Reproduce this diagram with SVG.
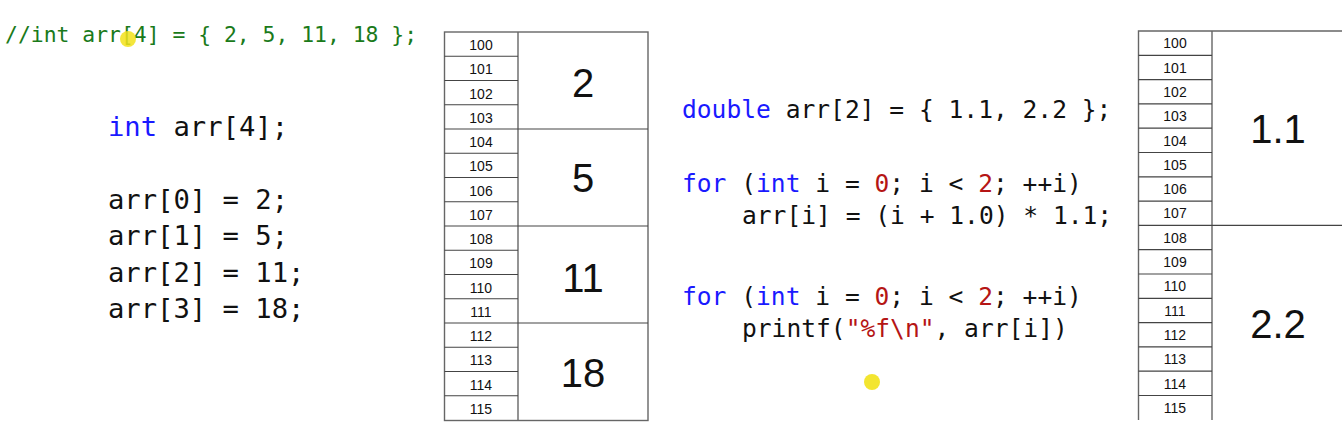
<svg xmlns="http://www.w3.org/2000/svg" width="1342" height="446" viewBox="0 0 1342 446">
<style>
.code{font-family:"DejaVu Sans Mono","Liberation Mono",monospace;fill:#111}
.kw{fill:#1a1aff}
.num{fill:#b51515}
.cm{fill:#1a7a1a}
.addr{font-family:"Liberation Sans",Arial,sans-serif;font-size:14px;fill:#111;text-anchor:middle}
.val{font-family:"Liberation Sans",Arial,sans-serif;font-size:40px;fill:#111;text-anchor:middle}
.ln{stroke:#444;stroke-width:1.2;fill:none}
.bd{stroke:#666;stroke-width:1.4;fill:none}
</style>
<rect width="1342" height="446" fill="#fff"/>

<g id="code-left">
<text class="code cm" x="5" y="42" font-size="21.4">//int arr[4] = { 2, 5, 11, 18 };</text>
<text class="code" x="108" y="136" font-size="27.2"><tspan class="kw">int</tspan> arr[4];</text>
<text class="code" x="108" y="209" font-size="27.2">arr[0] = 2;</text>
<text class="code" x="108" y="245" font-size="27.2">arr[1] = 5;</text>
<text class="code" x="108" y="282" font-size="27.2">arr[2] = 11;</text>
<text class="code" x="108" y="318" font-size="27.2">arr[3] = 18;</text>
</g>

<g id="table-int">
<rect class="bd" x="444.5" y="32" width="203.5" height="388.5"/>
<line class="bd" x1="518" y1="32" x2="518" y2="420.5"/>
<path class="ln" d="M444.5 56.25H518M444.5 80.5H518M444.5 104.75H518M444.5 153.25H518M444.5 177.5H518M444.5 201.75H518M444.5 250.25H518M444.5 274.5H518M444.5 298.75H518M444.5 347.25H518M444.5 371.5H518M444.5 395.75H518"/>
<path class="ln" d="M444.5 129H648M444.5 226H648M444.5 323H648"/>
<text class="addr" x="481" y="50">100</text>
<text class="addr" x="481" y="74.3">101</text>
<text class="addr" x="481" y="98.5">102</text>
<text class="addr" x="481" y="122.8">103</text>
<text class="addr" x="481" y="147">104</text>
<text class="addr" x="481" y="171.3">105</text>
<text class="addr" x="481" y="195.5">106</text>
<text class="addr" x="481" y="219.8">107</text>
<text class="addr" x="481" y="244">108</text>
<text class="addr" x="481" y="268.3">109</text>
<text class="addr" x="481" y="292.5">110</text>
<text class="addr" x="481" y="316.8">111</text>
<text class="addr" x="481" y="341">112</text>
<text class="addr" x="481" y="365.3">113</text>
<text class="addr" x="481" y="389.5">114</text>
<text class="addr" x="481" y="413.8">115</text>
<text class="val" x="583" y="97">2</text>
<text class="val" x="583" y="192">5</text>
<text class="val" x="583" y="292">11</text>
<text class="val" x="583" y="387">18</text>
</g>

<g id="code-right">
<text class="code" x="682" y="118" font-size="24.6"><tspan class="kw">double</tspan> arr[2] = { 1.1, 2.2 };</text>
<text class="code" x="682" y="192" font-size="24.6"><tspan class="kw">for</tspan> (<tspan class="kw">int</tspan> i = <tspan class="num">0</tspan>; i &lt; <tspan class="num">2</tspan>; ++i)</text>
<text class="code" x="742" y="224" font-size="24.6">arr[i] = (i + 1.0) * 1.1;</text>
<text class="code" x="682" y="305" font-size="24.6"><tspan class="kw">for</tspan> (<tspan class="kw">int</tspan> i = <tspan class="num">0</tspan>; i &lt; <tspan class="num">2</tspan>; ++i)</text>
<text class="code" x="742" y="337" font-size="24.6">printf(<tspan class="num">"%f\n"</tspan>, arr[i])</text>
</g>

<g id="table-double">
<path class="bd" d="M1138.5 420V31H1345M1212 31V420"/>
<path class="ln" d="M1138.5 55.3H1212M1138.5 79.6H1212M1138.5 103.9H1212M1138.5 128.2H1212M1138.5 152.5H1212M1138.5 176.8H1212M1138.5 201.1H1212M1138.5 249.7H1212M1138.5 274H1212M1138.5 298.3H1212M1138.5 322.6H1212M1138.5 346.9H1212M1138.5 371.2H1212M1138.5 395.5H1212"/>
<path class="ln" d="M1138.5 225.4H1345"/>
<text class="addr" x="1175" y="48.3">100</text>
<text class="addr" x="1175" y="72.6">101</text>
<text class="addr" x="1175" y="96.9">102</text>
<text class="addr" x="1175" y="121.2">103</text>
<text class="addr" x="1175" y="145.5">104</text>
<text class="addr" x="1175" y="169.8">105</text>
<text class="addr" x="1175" y="194.1">106</text>
<text class="addr" x="1175" y="218.4">107</text>
<text class="addr" x="1175" y="242.7">108</text>
<text class="addr" x="1175" y="267">109</text>
<text class="addr" x="1175" y="291.3">110</text>
<text class="addr" x="1175" y="315.6">111</text>
<text class="addr" x="1175" y="339.9">112</text>
<text class="addr" x="1175" y="364.2">113</text>
<text class="addr" x="1175" y="388.5">114</text>
<text class="addr" x="1175" y="412.8">115</text>
<text class="val" x="1278" y="143">1.1</text>
<text class="val" x="1278" y="338">2.2</text>
</g>

<g id="cursors">
<circle cx="128" cy="39" r="8" fill="#f2e21a" opacity="0.85"/>
<circle cx="872" cy="382" r="8" fill="#f2e21a" opacity="0.9"/>
</g>
</svg>
